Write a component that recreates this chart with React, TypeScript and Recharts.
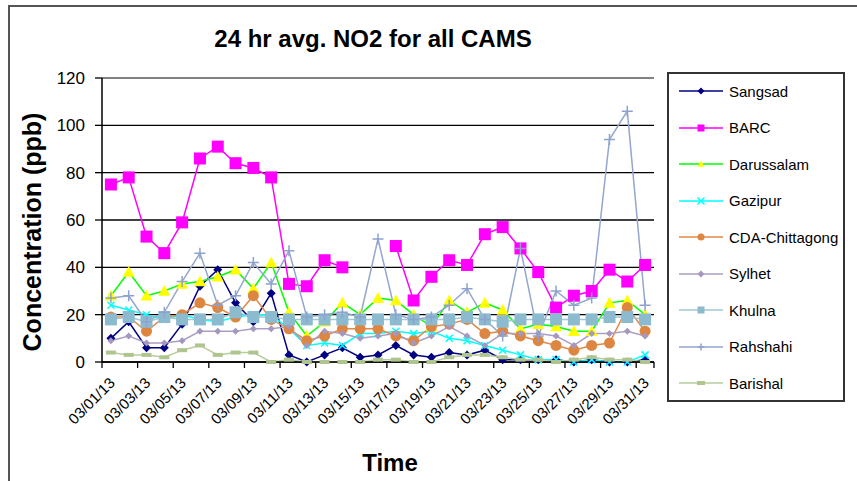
import React from "react";
import { CartesianGrid, Line, LineChart, ReferenceLine, XAxis, YAxis } from "recharts";

const dates = [
  "03/01/13", "03/02/13", "03/03/13", "03/04/13", "03/05/13", "03/06/13", "03/07/13", "03/08/13",
  "03/09/13", "03/10/13", "03/11/13", "03/12/13", "03/13/13", "03/14/13", "03/15/13", "03/16/13",
  "03/17/13", "03/18/13", "03/19/13", "03/20/13", "03/21/13", "03/22/13", "03/23/13", "03/24/13",
  "03/25/13", "03/26/13", "03/27/13", "03/28/13", "03/29/13", "03/30/13", "03/31/13",
];

const sangsad = [10, 17, 6, 6, 16, 32, 39, 25, 17, 29, 3, 0, 3, 6, 2, 3, 7, 3, 2, 4, 3, 5, 1, 1, 1, 1, 0, 1, 0, 0, 1];
const barc = [75, 78, 53, 46, 59, 86, 91, 84, 82, 78, 33, 32, 43, 40, null, null, 49, 26, 36, 43, 41, 54, 57, 48, 38, 23, 28, 30, 39, 34, 41];
const darussalam = [28, 38, 28, 30, 33, 34, 36, 39, 31, 42, 21, 11, 17, 25, 20, 27, 26, 20, 15, 26, 21, 25, 22, 14, 16, 15, 13, 13, 25, 26, 20];
const gazipur = [24, 22, 20, 18, 20, 18, 17, 19, 20, 20, 14, 7, 8, 7, 12, 12, 13, 12, 13, 10, 9, 7, 5, 3, 1, 1, 0, 1, 0, 0, 3];
const cda = [19, 19, 13, 19, 20, 25, 23, 19, 28, 18, 14, 9, 11, 14, 14, 14, 11, 9, 15, 16, 18, 12, 13, 11, 9, 7, 5, 7, 8, 23, 13];
const sylhet = [9, 11, 8, 8, 9, 13, 13, 13, 14, 14, 15, 7, 13, 12, 10, 11, 12, 8, 11, 15, 11, 7, 12, 12, 12, 11, 7, 12, 12, 13, 11];
const khulna = [18, 19, 17, 19, 18, 18, 18, 21, 19, 19, 18, 18, 18, 18, 18, 18, 18, 18, 18, 18, 19, 18, 17, 18, 18, 18, 18, 18, 19, 19, 18];
const rahshahi = [27, 28, 17, 21, 34, 46, 24, 28, 42, 33, 47, 19, 20, 21, 19, 52, 20, 18, 19, 24, 31, 18, 11, 48, 11, 30, 24, 27, 94, 106, 24];
const barishal = [4, 3, 3, 2, 5, 7, 3, 4, 4, 0, 1, 0, 0, 0, 0, 1, 1, 0, 0, 2, 3, 3, 2, 1, 1, 0, 1, 2, 1, 1, 0];

const yTicks = [0, 20, 40, 60, 80, 100, 120];

type Kind = "diamond" | "square" | "triangle" | "x" | "circle" | "plus" | "dash";

const series: { key: string; name: string; values: (number | null)[]; line: string; fill: string; kind: Kind; size: number }[] = [
  { key: "sangsad", name: "Sangsad", values: sangsad, line: "#000080", fill: "#000080", kind: "diamond", size: 9 },
  { key: "barc", name: "BARC", values: barc, line: "#FF00FF", fill: "#FF00FF", kind: "square", size: 12 },
  { key: "darussalam", name: "Darussalam", values: darussalam, line: "#00FF00", fill: "#FFFF00", kind: "triangle", size: 12 },
  { key: "gazipur", name: "Gazipur", values: gazipur, line: "#00FFFF", fill: "#00FFFF", kind: "x", size: 7 },
  { key: "cda", name: "CDA-Chittagong", values: cda, line: "#E0894A", fill: "#DC8642", kind: "circle", size: 11 },
  { key: "sylhet", name: "Sylhet", values: sylhet, line: "#ABA0C4", fill: "#A597BE", kind: "diamond", size: 7 },
  { key: "khulna", name: "Khulna", values: khulna, line: "#9EC8D8", fill: "#8CBACE", kind: "square", size: 12 },
  { key: "rahshahi", name: "Rahshahi", values: rahshahi, line: "#93A6CF", fill: "#8EA2CD", kind: "plus", size: 11 },
  { key: "barishal", name: "Barishal", values: barishal, line: "#B8CD9C", fill: "#AFC58F", kind: "dash", size: 10 },
];

const data = dates.map((d, i) => {
  const row: Record<string, any> = { date: d };
  series.forEach((s) => (row[s.key] = s.values[i]));
  return row;
});

const FONT = "'Liberation Sans', Arial, sans-serif";
const HALF_BAND = 552 / 31 / 2;

function Marker({ kind, cx, cy, size, fill }: { kind: Kind; cx: number; cy: number; size: number; fill: string }) {
  const h = size / 2;
  switch (kind) {
    case "diamond":
      return <polygon points={`${cx},${cy - h} ${cx + h},${cy} ${cx},${cy + h} ${cx - h},${cy}`} fill={fill} />;
    case "square":
      return <rect x={cx - h} y={cy - h} width={size} height={size} fill={fill} />;
    case "triangle":
      return <polygon points={`${cx},${cy - h} ${cx + h},${cy + h * 0.8} ${cx - h},${cy + h * 0.8}`} fill={fill} />;
    case "x":
      return (
        <path d={`M${cx - h},${cy - h}L${cx + h},${cy + h}M${cx - h},${cy + h}L${cx + h},${cy - h}`} stroke={fill} strokeWidth={1.5} />
      );
    case "circle":
      return <circle cx={cx} cy={cy} r={h} fill={fill} />;
    case "plus":
      return <path d={`M${cx - h},${cy}L${cx + h},${cy}M${cx},${cy - h}L${cx},${cy + h}`} stroke={fill} strokeWidth={1.5} />;
    case "dash":
      return <rect x={cx - h} y={cy - 2} width={size} height={4} fill={fill} />;
  }
}

const makeDot = (s: (typeof series)[number]) => (p: any) => {
  const k = `${s.key}-${p.index}`;
  if (p.cx == null || p.cy == null || p.value == null || p.payload?.[s.key] == null) return <g key={k} />;
  return (
    <g key={k}>
      <Marker kind={s.kind} cx={p.cx} cy={p.cy} size={s.size} fill={s.fill} />
    </g>
  );
};

const XTick = (props: any) => {
  const { x, y, payload } = props;
  const last = payload.value === dates[dates.length - 1];
  const ax = x + 1;
  const ay = y + 18;
  return (
    <g>
      <line x1={x - HALF_BAND} x2={x - HALF_BAND} y1={y} y2={y + 6} stroke="#000" strokeWidth={1.3} />
      {last && <line x1={x + HALF_BAND} x2={x + HALF_BAND} y1={y} y2={y + 6} stroke="#000" strokeWidth={1.3} />}
      <text
        x={ax}
        y={ay}
        transform={`rotate(-45 ${ax} ${ay})`}
        textAnchor="end"
        dominantBaseline="central"
        fontSize={15}
        fontFamily={FONT}
        fill="#000"
      >
        {payload.value}
      </text>
    </g>
  );
};

function LegendBox() {
  return (
    <div
      style={{
        position: "absolute",
        left: 667,
        top: 72,
        width: 178,
        height: 330,
        border: "2px solid #333",
        boxSizing: "border-box",
        background: "#fff",
      }}
    >
      {series.map((s, i) => (
        <div key={s.key} style={{ position: "absolute", left: 9, top: 17 + i * 36.5 - 10, height: 20, display: "flex", alignItems: "center" }}>
          <svg width={46} height={20}>
            <line x1={1} x2={45} y1={10} y2={10} stroke={s.line} strokeWidth={1.5} />
            <Marker kind={s.kind} cx={23} cy={10} size={s.kind === "dash" ? 8 : 7} fill={s.fill} />
          </svg>
          <span style={{ marginLeft: 5, fontFamily: FONT, fontSize: 15, color: "#000" }}>{s.name}</span>
        </div>
      ))}
    </div>
  );
}

export default function App() {
  return (
    <div style={{ position: "absolute", left: 0, top: 0, width: 857, height: 481, overflow: "hidden", background: "#fff" }}>
      <div
        style={{
          position: "absolute",
          left: 8,
          top: 5,
          width: 900,
          height: 600,
          borderLeft: "2px solid #555",
          borderTop: "2px solid #555",
        }}
      />
      <LineChart width={857} height={481} data={data} margin={{ top: 78, right: 203, bottom: 0, left: 0 }} style={{ position: "absolute", left: 0, top: 0 }}>
        <CartesianGrid vertical={false} stroke="#000" strokeWidth={1.3} />
        <XAxis
          xAxisId="top"
          orientation="top"
          dataKey="date"
          height={0}
          tick={false}
          tickLine={false}
          axisLine={{ stroke: "#999", strokeWidth: 1.3 }}
        />
        <XAxis
          dataKey="date"
          height={119}
          interval={1}
          tickSize={0}
          tickMargin={0}
          tickLine={false}
          padding={{ left: HALF_BAND, right: HALF_BAND }}
          axisLine={{ stroke: "#000", strokeWidth: 1.5 }}
          tick={<XTick />}
        />
        <YAxis
          domain={[0, 120]}
          ticks={yTicks}
          width={102}
          tickSize={7}
          tickMargin={10}
          axisLine={{ stroke: "#000", strokeWidth: 1.5 }}
          tickLine={{ stroke: "#000", strokeWidth: 1.3 }}
          tick={{ fontSize: 17, fontFamily: FONT, fill: "#000" }}
        />
        <YAxis yAxisId="right" orientation="right" width={0} domain={[0, 120]} tick={false} tickLine={false} axisLine={{ stroke: "#999", strokeWidth: 1.3 }} />
        <ReferenceLine y={120} stroke="#999" strokeWidth={1.3} />
        {series.map((s) => (
          <Line
            key={s.key}
            dataKey={s.key}
            name={s.name}
            stroke={s.line}
            strokeWidth={1.5}
            dot={makeDot(s)}
            activeDot={false}
            isAnimationActive={false}
            connectNulls={false}
          />
        ))}
      </LineChart>
      <div
        style={{
          position: "absolute",
          left: 173,
          width: 400,
          top: 24,
          height: 30,
          lineHeight: "30px",
          textAlign: "center",
          fontFamily: FONT,
          fontWeight: "bold",
          fontSize: 24,
        }}
      >
        24 hr avg. NO2 for all CAMS
      </div>
      <div
        style={{
          position: "absolute",
          left: 32 - 160,
          top: 232 - 16,
          width: 320,
          height: 32,
          lineHeight: "32px",
          textAlign: "center",
          transform: "rotate(-90deg)",
          fontFamily: FONT,
          fontWeight: "bold",
          fontSize: 25,
        }}
      >
        Concentration (ppb)
      </div>
      <div
        style={{
          position: "absolute",
          left: 290,
          width: 200,
          top: 448,
          height: 30,
          lineHeight: "30px",
          textAlign: "center",
          fontFamily: FONT,
          fontWeight: "bold",
          fontSize: 24,
        }}
      >
        Time
      </div>
      <LegendBox />
    </div>
  );
}
